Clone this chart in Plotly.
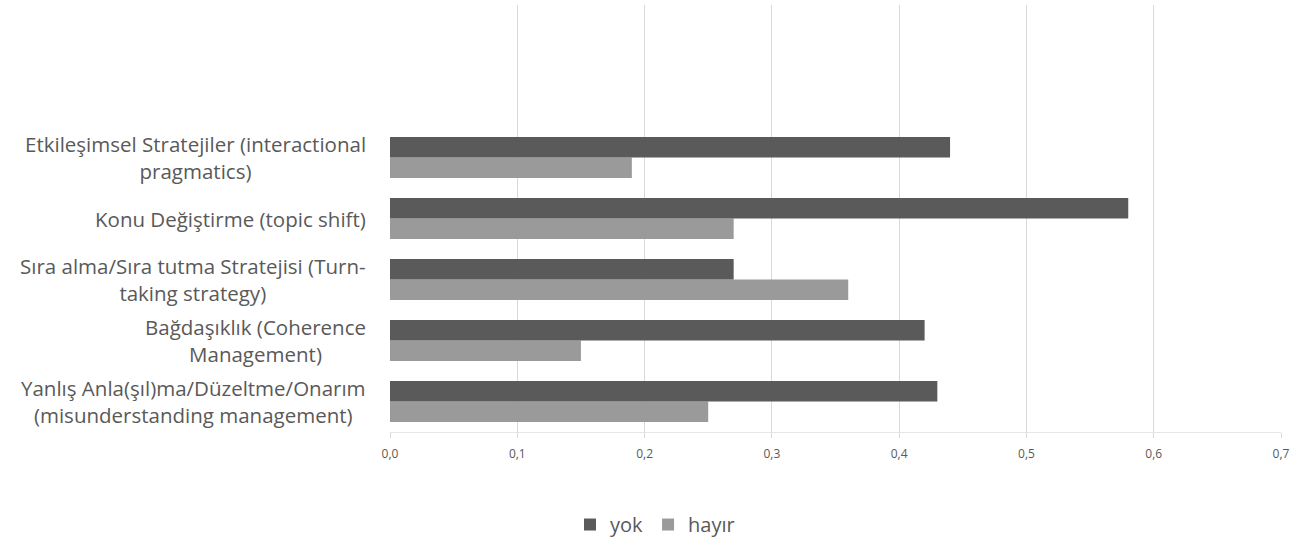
import plotly.graph_objects as go

# categories from bottom to top
categories = [
    "Yanlış Anla(şıl)ma/Düzeltme/Onarım<br>(misunderstanding management)",
    "Bağdaşıklık (Coherence<br>Management)",
    "Sıra alma/Sıra tutma Stratejisi (Turn-<br>taking strategy)",
    "Konu Değiştirme (topic shift)",
    "Etkileşimsel Stratejiler (interactional<br>pragmatics)",
]
yok = [0.43, 0.42, 0.27, 0.58, 0.44]
hayir = [0.25, 0.15, 0.36, 0.27, 0.19]
x_ticks = [0, 0.1, 0.2, 0.3, 0.4, 0.5, 0.6, 0.7]

text_color = "#595959"
font_family = "'Open Sans', sans-serif"

fig = go.Figure()

# hayir first so it sits below yok inside each group
fig.add_trace(
    go.Bar(
        y=categories,
        x=hayir,
        name="hayır",
        orientation="h",
        marker=dict(color="#9a9a9a", line=dict(width=0)),
    )
)
fig.add_trace(
    go.Bar(
        y=categories,
        x=yok,
        name="yok",
        orientation="h",
        marker=dict(color="#5a5a5a", line=dict(width=0)),
    )
)

# category labels as annotations so that wrapped lines are centred
for cat in categories:
    fig.add_annotation(
        x=0,
        xref="paper",
        y=cat,
        yref="y",
        text=cat,
        showarrow=False,
        xanchor="right",
        align="center",
        xshift=-22,
        font=dict(size=20.5, color=text_color, family=font_family),
    )

fig.update_layout(
    width=1310,
    height=554,
    margin=dict(l=390, r=29, t=5, b=122),
    paper_bgcolor="white",
    plot_bgcolor="white",
    barmode="group",
    bargap=0.33,
    bargroupgap=0.0,
    separators=", ",
    font=dict(family=font_family, color=text_color),
    xaxis=dict(
        range=[0, 0.7],
        tickvals=x_ticks,
        tickformat=".1f",
        showgrid=True,
        gridcolor="#d9d9d9",
        gridwidth=1,
        zeroline=False,
        showline=True,
        linecolor="#e6e6e6",
        ticks="outside",
        ticklen=5,
        tickcolor="#d9d9d9",
        ticklabelstandoff=6,
        tickfont=dict(size=12, color=text_color),
    ),
    yaxis=dict(
        categoryorder="array",
        categoryarray=categories,
        range=[-0.5, 6.5],
        showticklabels=False,
        showgrid=False,
        zeroline=False,
        showline=False,
        ticks="",
    ),
    showlegend=True,
    legend=dict(
        orientation="h",
        traceorder="reversed",
        x=0.5,
        xref="container",
        xanchor="center",
        y=0.018,
        yref="container",
        yanchor="bottom",
        itemwidth=30,
        font=dict(size=20, color=text_color),
    ),
)

fig.write_html(
    "out.html",
    config={"displayModeBar": False},
    post_script="document.body.style.margin='0px';",
)
